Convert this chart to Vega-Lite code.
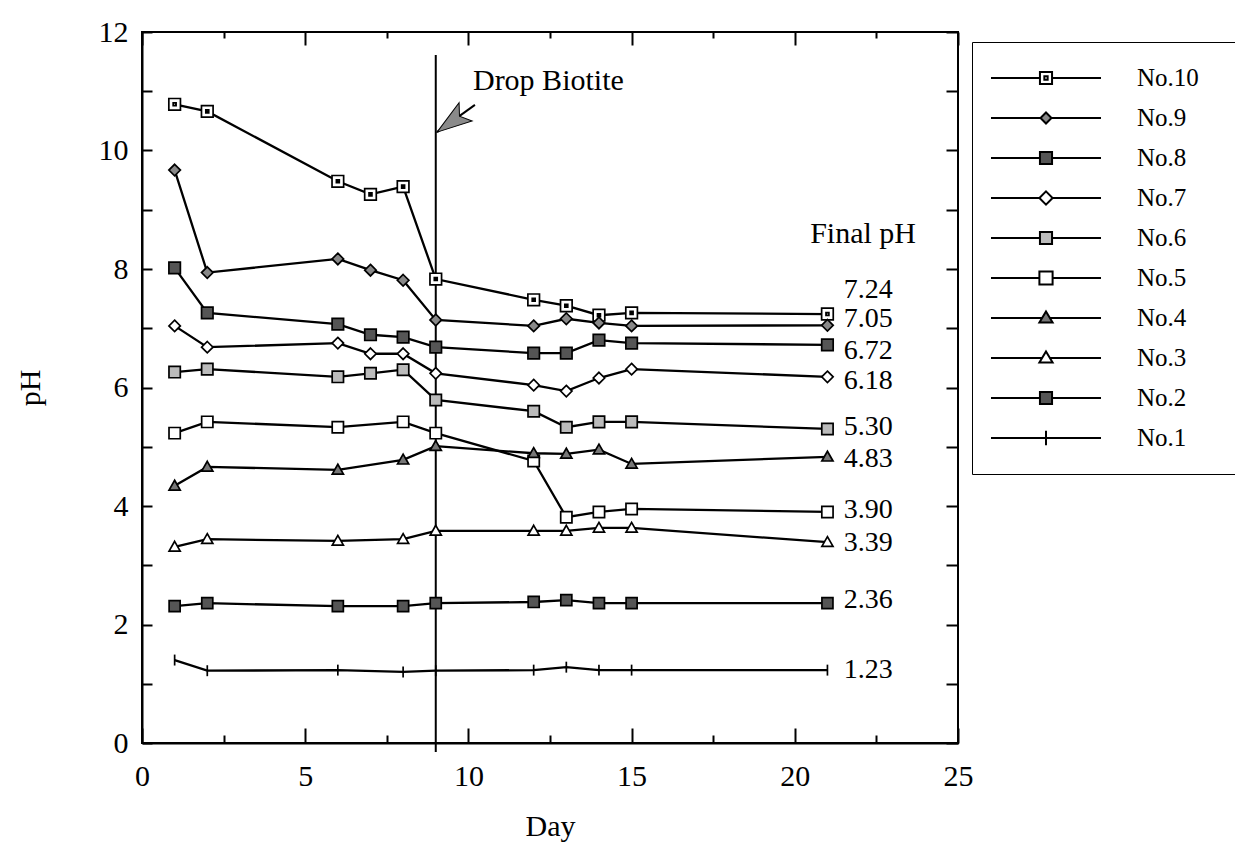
{
  "$schema": "https://vega.github.io/schema/vega-lite/v6.json",
  "width": 816,
  "height": 711,
  "autosize": {"type": "none"},
  "padding": {"left": 142, "top": 32, "right": 277, "bottom": 99},
  "background": "white",
  "config": {
    "font": "Liberation Serif",
    "view": {"stroke": "black", "strokeWidth": 2},
    "axis": {
      "domainColor": "black",
      "domainWidth": 2,
      "tickColor": "black",
      "tickWidth": 2,
      "labelFont": "Liberation Serif",
      "labelFontSize": 30,
      "labelColor": "black",
      "titleFont": "Liberation Serif",
      "titleFontSize": 30,
      "titleFontWeight": "normal",
      "titleColor": "black",
      "grid": false,
      "labelOverlap": false,
      "labelFlush": false
    }
  },
  "datasets": {
    "ph": [
      {"series": "No.10", "day": 1, "pH": 10.78}, {"series": "No.10", "day": 2, "pH": 10.66}, {"series": "No.10", "day": 6, "pH": 9.48}, {"series": "No.10", "day": 7, "pH": 9.26}, {"series": "No.10", "day": 8, "pH": 9.39}, {"series": "No.10", "day": 9, "pH": 7.83}, {"series": "No.10", "day": 12, "pH": 7.48}, {"series": "No.10", "day": 13, "pH": 7.38}, {"series": "No.10", "day": 14, "pH": 7.22}, {"series": "No.10", "day": 15, "pH": 7.26}, {"series": "No.10", "day": 21, "pH": 7.24},
      {"series": "No.9", "day": 1, "pH": 9.67}, {"series": "No.9", "day": 2, "pH": 7.94}, {"series": "No.9", "day": 6, "pH": 8.17}, {"series": "No.9", "day": 7, "pH": 7.98}, {"series": "No.9", "day": 8, "pH": 7.81}, {"series": "No.9", "day": 9, "pH": 7.14}, {"series": "No.9", "day": 12, "pH": 7.04}, {"series": "No.9", "day": 13, "pH": 7.16}, {"series": "No.9", "day": 14, "pH": 7.09}, {"series": "No.9", "day": 15, "pH": 7.04}, {"series": "No.9", "day": 21, "pH": 7.05},
      {"series": "No.8", "day": 1, "pH": 8.02}, {"series": "No.8", "day": 2, "pH": 7.26}, {"series": "No.8", "day": 6, "pH": 7.07}, {"series": "No.8", "day": 7, "pH": 6.89}, {"series": "No.8", "day": 8, "pH": 6.85}, {"series": "No.8", "day": 9, "pH": 6.68}, {"series": "No.8", "day": 12, "pH": 6.58}, {"series": "No.8", "day": 13, "pH": 6.58}, {"series": "No.8", "day": 14, "pH": 6.8}, {"series": "No.8", "day": 15, "pH": 6.75}, {"series": "No.8", "day": 21, "pH": 6.72},
      {"series": "No.7", "day": 1, "pH": 7.04}, {"series": "No.7", "day": 2, "pH": 6.68}, {"series": "No.7", "day": 6, "pH": 6.75}, {"series": "No.7", "day": 7, "pH": 6.57}, {"series": "No.7", "day": 8, "pH": 6.57}, {"series": "No.7", "day": 9, "pH": 6.24}, {"series": "No.7", "day": 12, "pH": 6.04}, {"series": "No.7", "day": 13, "pH": 5.94}, {"series": "No.7", "day": 14, "pH": 6.16}, {"series": "No.7", "day": 15, "pH": 6.31}, {"series": "No.7", "day": 21, "pH": 6.18},
      {"series": "No.6", "day": 1, "pH": 6.26}, {"series": "No.6", "day": 2, "pH": 6.31}, {"series": "No.6", "day": 6, "pH": 6.18}, {"series": "No.6", "day": 7, "pH": 6.24}, {"series": "No.6", "day": 8, "pH": 6.3}, {"series": "No.6", "day": 9, "pH": 5.79}, {"series": "No.6", "day": 12, "pH": 5.6}, {"series": "No.6", "day": 13, "pH": 5.33}, {"series": "No.6", "day": 14, "pH": 5.42}, {"series": "No.6", "day": 15, "pH": 5.42}, {"series": "No.6", "day": 21, "pH": 5.3},
      {"series": "No.5", "day": 1, "pH": 5.23}, {"series": "No.5", "day": 2, "pH": 5.42}, {"series": "No.5", "day": 6, "pH": 5.33}, {"series": "No.5", "day": 8, "pH": 5.42}, {"series": "No.5", "day": 9, "pH": 5.23}, {"series": "No.5", "day": 12, "pH": 4.76}, {"series": "No.5", "day": 13, "pH": 3.81}, {"series": "No.5", "day": 14, "pH": 3.9}, {"series": "No.5", "day": 15, "pH": 3.95}, {"series": "No.5", "day": 21, "pH": 3.9},
      {"series": "No.4", "day": 1, "pH": 4.34}, {"series": "No.4", "day": 2, "pH": 4.66}, {"series": "No.4", "day": 6, "pH": 4.61}, {"series": "No.4", "day": 8, "pH": 4.78}, {"series": "No.4", "day": 9, "pH": 5.01}, {"series": "No.4", "day": 12, "pH": 4.89}, {"series": "No.4", "day": 13, "pH": 4.88}, {"series": "No.4", "day": 14, "pH": 4.95}, {"series": "No.4", "day": 15, "pH": 4.71}, {"series": "No.4", "day": 21, "pH": 4.83},
      {"series": "No.3", "day": 1, "pH": 3.31}, {"series": "No.3", "day": 2, "pH": 3.44}, {"series": "No.3", "day": 6, "pH": 3.41}, {"series": "No.3", "day": 8, "pH": 3.44}, {"series": "No.3", "day": 9, "pH": 3.58}, {"series": "No.3", "day": 12, "pH": 3.58}, {"series": "No.3", "day": 13, "pH": 3.58}, {"series": "No.3", "day": 14, "pH": 3.63}, {"series": "No.3", "day": 15, "pH": 3.63}, {"series": "No.3", "day": 21, "pH": 3.39},
      {"series": "No.2", "day": 1, "pH": 2.31}, {"series": "No.2", "day": 2, "pH": 2.36}, {"series": "No.2", "day": 6, "pH": 2.31}, {"series": "No.2", "day": 8, "pH": 2.31}, {"series": "No.2", "day": 9, "pH": 2.36}, {"series": "No.2", "day": 12, "pH": 2.38}, {"series": "No.2", "day": 13, "pH": 2.41}, {"series": "No.2", "day": 14, "pH": 2.36}, {"series": "No.2", "day": 15, "pH": 2.36}, {"series": "No.2", "day": 21, "pH": 2.36},
      {"series": "No.1", "day": 1, "pH": 1.4}, {"series": "No.1", "day": 2, "pH": 1.22}, {"series": "No.1", "day": 6, "pH": 1.23}, {"series": "No.1", "day": 8, "pH": 1.2}, {"series": "No.1", "day": 9, "pH": 1.22}, {"series": "No.1", "day": 12, "pH": 1.23}, {"series": "No.1", "day": 13, "pH": 1.28}, {"series": "No.1", "day": 14, "pH": 1.23}, {"series": "No.1", "day": 15, "pH": 1.23}, {"series": "No.1", "day": 21, "pH": 1.23}
    ],
    "finals": [
      {"series": "No.10", "final": 7.24, "labelY": 7.65},
      {"series": "No.9", "final": 7.05, "labelY": 7.15},
      {"series": "No.8", "final": 6.72, "labelY": 6.62},
      {"series": "No.7", "final": 6.18, "labelY": 6.11},
      {"series": "No.6", "final": 5.30, "labelY": 5.33},
      {"series": "No.4", "final": 4.83, "labelY": 4.79},
      {"series": "No.5", "final": 3.90, "labelY": 3.93},
      {"series": "No.3", "final": 3.39, "labelY": 3.38},
      {"series": "No.2", "final": 2.36, "labelY": 2.41},
      {"series": "No.1", "final": 1.23, "labelY": 1.23}
    ]
  },
  "layer": [
    {
      "description": "biotite drop marker on day 9",
      "data": {"values": [{}]},
      "mark": {"type": "rule", "color": "black", "strokeWidth": 2},
      "encoding": {
        "x": {"datum": 9, "type": "quantitative", "scale": {"domain": [0, 25], "nice": false}, "axis": null},
        "y": {"datum": -0.15, "type": "quantitative", "scale": {"domain": [0, 12], "nice": false}, "axis": null},
        "y2": {"datum": 11.61}
      }
    },
    {
      "data": {"name": "ph"},
      "mark": {"type": "line", "strokeWidth": 2.3, "color": "black"},
      "encoding": {
        "x": {
          "field": "day", "type": "quantitative",
          "scale": {"domain": [0, 25], "nice": false},
          "axis": {
            "orient": "bottom", "title": "Day",
            "values": [0, 2.5, 5, 7.5, 10, 12.5, 15, 17.5, 20, 22.5, 25],
            "labelExpr": "datum.value % 5 === 0 ? datum.label : ''",
            "tickSize": {"condition": {"test": "datum.value % 5 === 0", "value": -15}, "value": -8},
            "labelPadding": 33,
            "titlePadding": 13
          }
        },
        "y": {
          "field": "pH", "type": "quantitative",
          "scale": {"domain": [0, 12], "nice": false},
          "axis": {
            "orient": "left", "title": "pH",
            "values": [0, 1, 2, 3, 4, 5, 6, 7, 8, 9, 10, 11, 12],
            "labelExpr": "datum.value % 2 === 0 ? datum.label : ''",
            "tickSize": -10,
            "labelPadding": 24,
            "titlePadding": 53
          }
        },
        "detail": {"field": "series", "type": "nominal"}
      }
    },
    {
      "data": {"name": "ph"},
      "mark": {"type": "point", "filled": true, "stroke": "black", "strokeWidth": 1.7, "opacity": 1},
      "encoding": {
        "x": {
          "field": "day", "type": "quantitative",
          "scale": {"domain": [0, 25], "nice": false},
          "axis": {
            "orient": "top", "title": null, "labels": false, "domain": false,
            "values": [0, 2.5, 5, 7.5, 10, 12.5, 15, 17.5, 20, 22.5, 25],
            "tickSize": {"condition": {"test": "datum.value % 5 === 0", "value": -13}, "value": -6}
          }
        },
        "y": {
          "field": "pH", "type": "quantitative",
          "scale": {"domain": [0, 12], "nice": false},
          "axis": {
            "orient": "right", "title": null, "labels": false, "domain": false,
            "values": [0, 1, 2, 3, 4, 5, 6, 7, 8, 9, 10, 11, 12],
            "tickSize": -12
          }
        },
        "shape": {
          "field": "series", "type": "nominal",
          "scale": {
            "domain": ["No.10", "No.9", "No.8", "No.7", "No.6", "No.5", "No.4", "No.3", "No.2", "No.1"],
            "range": [
              "M-1,-1H1V1H-1Z M-0.25,-0.25V0.25H0.25V-0.25Z",
              "M0,-1L1,0L0,1L-1,0Z",
              "M-1,-1H1V1H-1Z",
              "M0,-1L1,0L0,1L-1,0Z",
              "M-1,-1H1V1H-1Z",
              "M-1,-1H1V1H-1Z",
              "M0,-1L1,0.75L-1,0.75Z",
              "M0,-1L1,0.75L-1,0.75Z",
              "M-1,-1H1V1H-1Z",
              "M0,-1V1"
            ]
          },
          "legend": null
        },
        "fill": {
          "field": "series", "type": "nominal",
          "scale": {
            "domain": ["No.10", "No.9", "No.8", "No.7", "No.6", "No.5", "No.4", "No.3", "No.2", "No.1"],
            "range": ["white", "#888888", "#555555", "white", "#bbbbbb", "white", "#777777", "white", "#555555", "black"]
          },
          "legend": null
        },
        "size": {
          "field": "series", "type": "nominal",
          "scale": {
            "domain": ["No.10", "No.9", "No.8", "No.7", "No.6", "No.5", "No.4", "No.3", "No.2", "No.1"],
            "range": [135, 120, 145, 155, 135, 165, 165, 175, 145, 200]
          },
          "legend": null
        }
      }
    },
    {
      "description": "key entries: a line sample with the series marker in its middle",
      "data": {"name": "ph"},
      "transform": [{"filter": "datum.day > 100"}],
      "mark": {"type": "point", "filled": true, "strokeWidth": 2, "opacity": 1},
      "encoding": {
        "x": {"field": "day", "type": "quantitative", "scale": {"domain": [0, 25], "nice": false}, "axis": null},
        "y": {"field": "pH", "type": "quantitative", "scale": {"domain": [0, 12], "nice": false}, "axis": null},
        "shape": {
          "field": "series", "type": "nominal",
          "scale": {
            "domain": ["No.10", "No.9", "No.8", "No.7", "No.6", "No.5", "No.4", "No.3", "No.2", "No.1"],
            "range": [
              "M-1,0H-0.11M0.11,0H1M-0.11,-0.11H0.11V0.11H-0.11Z M-0.03,-0.03V0.03H0.03V-0.03Z",
              "M-1,0H-0.1M0.1,0H1M0,-0.1L0.1,0L0,0.1L-0.1,0Z",
              "M-1,0H-0.11M0.11,0H1M-0.11,-0.11H0.11V0.11H-0.11Z",
              "M-1,0H-0.12M0.12,0H1M0,-0.12L0.12,0L0,0.12L-0.12,0Z",
              "M-1,0H-0.11M0.11,0H1M-0.11,-0.11H0.11V0.11H-0.11Z",
              "M-1,0H-0.12M0.12,0H1M-0.12,-0.12H0.12V0.12H-0.12Z",
              "M-1,0H-0.072M0.072,0H1M0,-0.12L0.12,0.08L-0.12,0.08Z",
              "M-1,0H-0.072M0.072,0H1M0,-0.12L0.12,0.08L-0.12,0.08Z",
              "M-1,0H-0.11M0.11,0H1M-0.11,-0.11H0.11V0.11H-0.11Z",
              "M-1,0H1M0,-0.13V0.13"
            ]
          },
          "legend": {
            "orient": "none", "legendX": 830, "legendY": 10, "title": null,
            "symbolSize": 12100, "symbolStrokeWidth": 2,
            "clipHeight": 36, "rowPadding": 4, "padding": 18,
            "strokeColor": "black",
            "labelFont": "Liberation Serif", "labelFontSize": 25, "labelColor": "black",
            "labelOffset": 35, "labelExpr": "datum.label + '\u00a0\u00a0\u00a0\u00a0\u00a0\u200b'"
          }
        },
        "fill": {
          "field": "series", "type": "nominal",
          "scale": {
            "domain": ["No.10", "No.9", "No.8", "No.7", "No.6", "No.5", "No.4", "No.3", "No.2", "No.1"],
            "range": ["white", "#888888", "#555555", "white", "#bbbbbb", "white", "#777777", "white", "#555555", "black"]
          },
          "legend": {
            "orient": "none", "legendX": 830, "legendY": 10, "title": null,
            "symbolSize": 12100, "symbolStrokeWidth": 2,
            "clipHeight": 36, "rowPadding": 4, "padding": 18,
            "strokeColor": "black",
            "labelFont": "Liberation Serif", "labelFontSize": 25, "labelColor": "black",
            "labelOffset": 35, "labelExpr": "datum.label + '\u00a0\u00a0\u00a0\u00a0\u00a0\u200b'"
          }
        },
        "stroke": {
          "field": "series", "type": "nominal",
          "scale": {
            "domain": ["No.10", "No.9", "No.8", "No.7", "No.6", "No.5", "No.4", "No.3", "No.2", "No.1"],
            "range": ["black", "black", "black", "black", "black", "black", "black", "black", "black", "black"]
          },
          "legend": {
            "orient": "none", "legendX": 830, "legendY": 10, "title": null,
            "symbolSize": 12100, "symbolStrokeWidth": 2,
            "clipHeight": 36, "rowPadding": 4, "padding": 18,
            "strokeColor": "black",
            "labelFont": "Liberation Serif", "labelFontSize": 25, "labelColor": "black",
            "labelOffset": 35, "labelExpr": "datum.label + '\u00a0\u00a0\u00a0\u00a0\u00a0\u200b'"
          }
        }
      }
    },
    {
      "description": "arrow shaft",
      "data": {"values": [{}]},
      "mark": {"type": "rule", "color": "black", "strokeWidth": 2},
      "encoding": {
        "x": {"datum": 10.2, "type": "quantitative", "scale": {"domain": [0, 25], "nice": false}, "axis": null},
        "y": {"datum": 10.77, "type": "quantitative", "scale": {"domain": [0, 12], "nice": false}, "axis": null},
        "x2": {"datum": 9.04},
        "y2": {"datum": 10.31}
      }
    },
    {
      "description": "arrow head",
      "data": {"values": [{}]},
      "mark": {
        "type": "point", "filled": true, "fill": "#8a8a8a", "stroke": "black", "strokeWidth": 1, "opacity": 1,
        "shape": "M0,0L0.45,1.4L0,1.1L-0.45,1.4Z", "size": 2500, "angle": 234.6
      },
      "encoding": {
        "x": {"datum": 9.04, "type": "quantitative", "scale": {"domain": [0, 25], "nice": false}, "axis": null},
        "y": {"datum": 10.31, "type": "quantitative", "scale": {"domain": [0, 12], "nice": false}, "axis": null}
      }
    },
    {
      "data": {"values": [{}]},
      "mark": {"type": "text", "text": "Drop Biotite", "align": "left", "baseline": "alphabetic", "fontSize": 30, "font": "Liberation Serif", "color": "black"},
      "encoding": {
        "x": {"datum": 10.14, "type": "quantitative", "scale": {"domain": [0, 25], "nice": false}, "axis": null},
        "y": {"datum": 11.02, "type": "quantitative", "scale": {"domain": [0, 12], "nice": false}, "axis": null}
      }
    },
    {
      "data": {"values": [{}]},
      "mark": {"type": "text", "text": "Final pH", "align": "left", "baseline": "alphabetic", "fontSize": 30, "font": "Liberation Serif", "color": "black"},
      "encoding": {
        "x": {"datum": 20.47, "type": "quantitative", "scale": {"domain": [0, 25], "nice": false}, "axis": null},
        "y": {"datum": 8.44, "type": "quantitative", "scale": {"domain": [0, 12], "nice": false}, "axis": null}
      }
    },
    {
      "data": {"name": "finals"},
      "mark": {"type": "text", "align": "left", "baseline": "middle", "fontSize": 28, "font": "Liberation Serif", "color": "black"},
      "encoding": {
        "x": {"datum": 21.5, "type": "quantitative", "scale": {"domain": [0, 25], "nice": false}, "axis": null},
        "y": {"field": "labelY", "type": "quantitative", "scale": {"domain": [0, 12], "nice": false}, "axis": null},
        "text": {"field": "final", "type": "quantitative", "format": ".2f"}
      }
    }
  ],
  "resolve": {
    "axis": {"x": "independent", "y": "independent"},
    "scale": {"shape": "independent", "fill": "independent", "stroke": "independent"}
  }
}
